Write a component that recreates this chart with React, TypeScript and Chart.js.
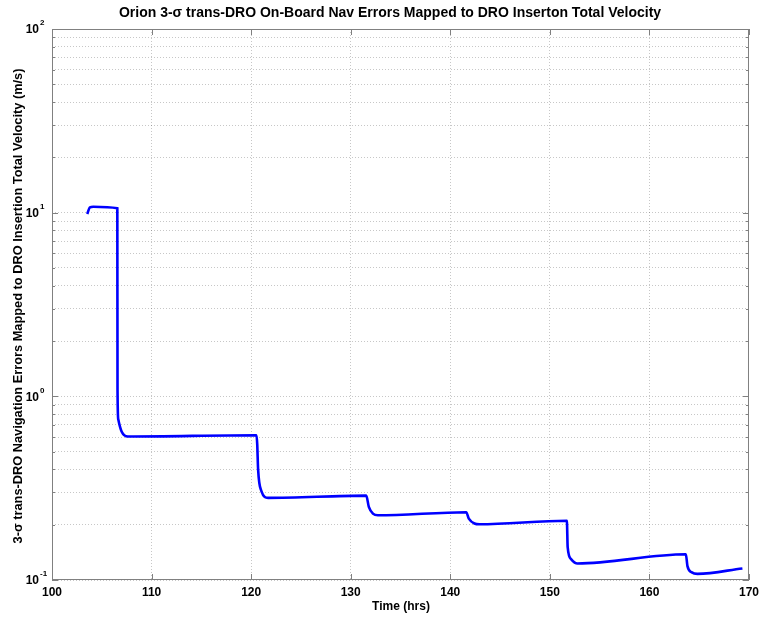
import React, { useEffect, useRef } from "react";
import { Chart, registerables } from "chart.js";

Chart.register(...registerables);

const TITLE = "Orion 3-σ trans-DRO On-Board Nav Errors Mapped to DRO Inserton Total Velocity";
const X_LABEL = "Time (hrs)";
const Y_LABEL = "3-σ trans-DRO Navigation Errors Mapped to DRO Insertion Total Velocity (m/s)";

// Time (hrs)
const timeHrs = [
  103.54, 103.81, 104.14, 106.56,
  106.58, 106.66, 106.99, 107.62,
  120.54, 120.61, 120.7, 121.03, 121.7,
  131.56, 131.82, 132.23, 132.73,
  141.6, 141.86, 142.43, 142.93,
  151.71, 151.79, 152.13, 152.78,
  163.66, 163.82, 164.26, 164.83,
  169.34,
];
// Total velocity error (m/s)
const deltaV = [
  9.84, 10.7, 10.78, 10.57,
  1.09, 0.747, 0.643, 0.604,
  0.614, 0.55, 0.4, 0.305, 0.28,
  0.288, 0.25, 0.23, 0.225,
  0.234, 0.216, 0.203, 0.201,
  0.21, 0.151, 0.13, 0.123,
  0.138, 0.119, 0.11, 0.108,
  0.1156,
];

const xTicks = [100, 110, 120, 130, 140, 150, 160, 170];
const yDecades = [0.1, 1, 10, 100];
const yDecadeExponents = ["-1", "0", "1", "2"];
const yMinorMultipliers = [1, 2, 3, 4, 5, 6, 7, 8, 9];

const FONT = "'Liberation Sans', Arial, Helvetica, sans-serif";
const BOX_COLOR = "#808080";

function buildYTickValues(): number[] {
  const vals: number[] = [];
  for (let i = 0; i < yDecades.length - 1; i++) {
    for (const m of yMinorMultipliers) vals.push(+(yDecades[i] * m).toPrecision(6));
  }
  vals.push(yDecades[yDecades.length - 1]);
  return vals;
}

const decorPlugin = {
  id: "decor",
  afterDraw(chart: any) {
    const { ctx, chartArea: a, scales } = chart;
    const xs = scales.x;
    const ys = scales.y;
    ctx.save();
    // box
    ctx.strokeStyle = BOX_COLOR;
    ctx.lineWidth = 1;
    ctx.setLineDash([]);
    ctx.strokeRect(a.left + 0.5, a.top + 0.5, a.right - a.left - 1, a.bottom - a.top - 1);
    // x ticks
    ctx.beginPath();
    for (const t of xTicks) {
      const px = Math.round(xs.getPixelForValue(t)) + 0.5;
      ctx.moveTo(px, a.bottom);
      ctx.lineTo(px, a.bottom - 6);
      ctx.moveTo(px, a.top);
      ctx.lineTo(px, a.top + 6);
    }
    // y ticks
    for (const v of buildYTickValues()) {
      const py = Math.round(ys.getPixelForValue(v)) + 0.5;
      const major = yDecades.some((d) => Math.abs(d - v) < 1e-9);
      const len = major ? 6 : 3;
      ctx.moveTo(a.left, py);
      ctx.lineTo(a.left + len, py);
      ctx.moveTo(a.right, py);
      ctx.lineTo(a.right - len, py);
    }
    ctx.stroke();

    // y tick labels with superscripts
    ctx.fillStyle = "#000";
    yDecades.forEach((d, i) => {
      const py = ys.getPixelForValue(d);
      ctx.font = `bold 12px ${FONT}`;
      ctx.textAlign = "right";
      ctx.textBaseline = "middle";
      ctx.fillText("10", 39, py + 1);
      ctx.font = `bold 8px ${FONT}`;
      ctx.textAlign = "left";
      ctx.fillText(yDecadeExponents[i], 40, py - 6);
    });

    // title
    ctx.font = `bold 14px ${FONT}`;
    ctx.textAlign = "center";
    ctx.textBaseline = "middle";
    ctx.fillText(TITLE, 390, 13);

    // x title
    ctx.font = `bold 12px ${FONT}`;
    ctx.fillText(X_LABEL, 401, 607);

    // y title
    ctx.font = `bold 12.8px ${FONT}`;
    ctx.translate(18, 306);
    ctx.rotate(-Math.PI / 2);
    ctx.fillText(Y_LABEL, 0, 0);
    ctx.restore();
  },
};

export default function App() {
  const canvasRef = useRef<HTMLCanvasElement | null>(null);

  useEffect(() => {
    document.body.style.margin = "0";
    const canvas = canvasRef.current;
    if (!canvas) return;
    const points = timeHrs.map((t, i) => ({ x: t, y: deltaV[i] }));
    const yTickValues = buildYTickValues();
    const chart = new Chart(canvas, {
      type: "line",
      data: {
        datasets: [
          {
            data: points,
            borderColor: "#0000ff",
            borderWidth: 2.6,
            pointRadius: 0,
            fill: false,
            cubicInterpolationMode: "monotone",
          },
        ],
      },
      options: {
        responsive: false,
        animation: false,
        layout: { padding: { top: 29, right: 14, bottom: 0, left: 0 } },
        plugins: {
          legend: { display: false },
          title: { display: false },
          tooltip: { enabled: false },
        },
        scales: {
          x: {
            type: "linear",
            min: 100,
            max: 170,
            afterBuildTicks: (scale: any) => {
              scale.ticks = xTicks.map((v) => ({ value: v }));
            },
            afterFit: (scale: any) => {
              scale.height = 40;
            },
            ticks: {
              autoSkip: false,
              maxRotation: 0,
              padding: 5,
              color: "#000",
              font: { family: FONT, size: 12, weight: "bold" },
            },
            grid: {
              color: "rgba(0,0,0,0.22)",
              lineWidth: 1,
              drawTicks: false,
            },
            border: { display: false, dash: [1, 2] },
          },
          y: {
            type: "logarithmic",
            min: 0.1,
            max: 100,
            afterBuildTicks: (scale: any) => {
              scale.ticks = yTickValues.map((v) => ({ value: v }));
            },
            afterFit: (scale: any) => {
              scale.width = 52;
            },
            ticks: { display: false },
            grid: {
              color: "rgba(0,0,0,0.22)",
              lineWidth: 1,
              drawTicks: false,
            },
            border: { display: false, dash: [1, 2] },
          },
        },
      },
      plugins: [decorPlugin],
    } as any);
    return () => chart.destroy();
  }, []);

  return (
    <div style={{ width: 764, height: 620 }}>
      <canvas ref={canvasRef} width={764} height={620} />
    </div>
  );
}
